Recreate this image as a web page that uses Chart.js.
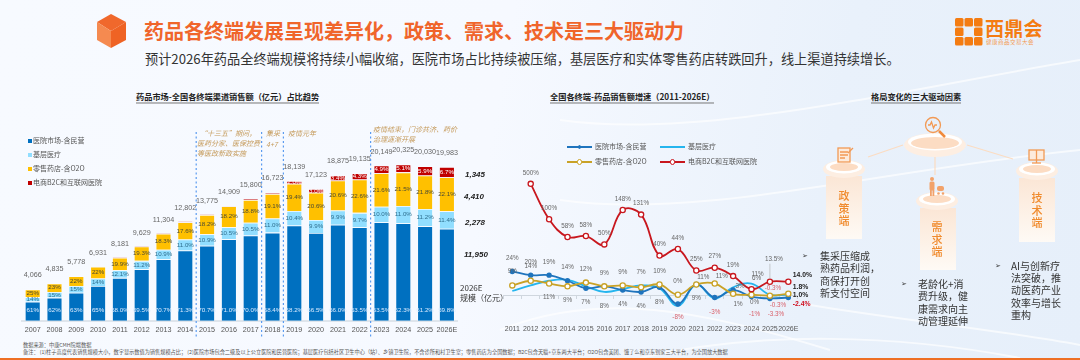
<!DOCTYPE html>
<html lang="zh">
<head>
<meta charset="utf-8">
<title>药品各终端发展呈现差异化</title>
<script src="https://cdn.jsdelivr.net/npm/chart.js@4/dist/chart.umd.min.js"></script>
<style>
    html, body { margin: 0; padding: 0; }
    body { width: 1080px; height: 360px; overflow: hidden; position: relative;
        font-family: "Noto Sans CJK SC", "Noto Sans", sans-serif;
        background: linear-gradient(100deg, #f7faff 0%, #f6f9ff 45%, #e9f1fb 75%, #e6effa 100%); }
    svg.deco { position: absolute; left: 0; top: 0; }
    canvas { position: absolute; }
    .t { position: absolute; white-space: nowrap; transform: translateY(-50%); line-height: 1.1; }
    .title { left: 144px; top: 31px; font-size: 20px; font-weight: 700; color: #f0652b; }
    .sub { left: 145px; top: 59px; font-size: 13.2px; color: #333; }
    .head { top: 98px; font-size: 8.2px; font-weight: 700; color: #222; border-bottom: 1.5px solid #777; padding-bottom: 1px; }
    .era { font-size: 7px; font-style: italic; color: #c59a5a; }
    .leg { font-size: 7px; color: #555; }
    .size { font-size: 8px; font-weight: 700; font-style: italic; color: #222; font-family: "Liberation Sans", sans-serif; }
    .foot { left: 23px; font-size: 5.2px; color: #555; }
    .col { font-size: 11px; color: #f08a2c; font-weight: 500; width: 36px; text-align: center; }
    .say { font-size: 10px; color: #333; }
    .arrow { font-size: 7px; color: #333; font-family: "DejaVu Sans", sans-serif; }
    .bar { position: absolute; left: 0; top: 358px; width: 1080px; height: 2px; background: #ee6f24; }
</style>
</head>
<body>
<svg class="deco" width="1080" height="360" viewBox="0 0 1080 360">
    <defs>
        <linearGradient id="colFill" x1="0" y1="0" x2="0" y2="1">
            <stop offset="0" stop-color="#fbe6d5"/>
            <stop offset="1" stop-color="#fefaf5"/>
        </linearGradient>
    </defs>
    <!-- background streaks -->
    <g fill="none" stroke="#ffffff" stroke-opacity="0.65">
        <path d="M560 120 C700 140 900 90 1080 60" stroke-width="2"/>
        <path d="M560 200 C700 220 880 170 1080 150" stroke-width="2"/>
        <path d="M810 305 C900 320 1000 330 1080 345" stroke-width="2"/>
        <path d="M500 330 C600 290 700 310 830 350" stroke-width="2"/>
        <path d="M640 358 C760 330 900 335 1020 358" stroke-width="2"/>
    </g>
    <!-- cube -->
    <polygon points="111,14 126,22 111,31 97,22" fill="#f0682c"/>
    <polygon points="97,22 111,31 111,48 97,40" fill="#f58a50"/>
    <polygon points="126,22 126,40 111,48 111,31" fill="#ef6324"/>
    <!-- logo squares -->
    <g fill="#f47c12">
        <rect x="955" y="18" width="8.5" height="8.5" rx="1.5"/><rect x="964.5" y="18" width="8.5" height="8.5" rx="1.5"/><rect x="974" y="18" width="8.5" height="8.5" rx="1.5"/>
        <rect x="955" y="27.5" width="8.5" height="8.5" rx="1.5"/><rect x="974" y="27.5" width="8.5" height="8.5" rx="1.5"/>
        <rect x="955" y="37" width="8.5" height="8.5" rx="1.5"/><rect x="964.5" y="37" width="8.5" height="8.5" rx="1.5"/><rect x="974" y="37" width="8.5" height="8.5" rx="1.5"/>
    </g>
    <!-- driver diagram -->
    <g stroke="#fbdcc2" stroke-width="1.2">
        <line x1="868" y1="157" x2="903" y2="145"/>
        <line x1="935" y1="157" x2="935" y2="175"/>
        <line x1="967" y1="145" x2="1013" y2="159"/>
    </g>
    <rect x="826" y="176" width="36" height="63" fill="url(#colFill)"/>
    <rect x="920" y="208" width="36" height="62" fill="url(#colFill)"/>
    <rect x="1019" y="178" width="36" height="64" fill="url(#colFill)"/>
    <g>
        <ellipse cx="935" cy="145" rx="31" ry="12" fill="#fdeee2"/>
        <ellipse cx="935" cy="142" rx="27" ry="8.5" fill="#ffffff"/>
        <ellipse cx="935" cy="143" rx="24" ry="6" fill="#fcdcc3"/>
        <ellipse cx="844" cy="169" rx="21" ry="9" fill="#fdeee2"/>
        <ellipse cx="844" cy="167" rx="18" ry="6.5" fill="#ffffff"/>
        <ellipse cx="844" cy="167" rx="14" ry="4" fill="#fcdcc3"/>
        <ellipse cx="937" cy="201" rx="21" ry="9" fill="#fdeee2"/>
        <ellipse cx="937" cy="199" rx="18" ry="6.5" fill="#ffffff"/>
        <ellipse cx="937" cy="199" rx="14" ry="4" fill="#fcdcc3"/>
        <ellipse cx="1037" cy="171" rx="21" ry="9" fill="#fdeee2"/>
        <ellipse cx="1037" cy="169" rx="18" ry="6.5" fill="#ffffff"/>
        <ellipse cx="1037" cy="169" rx="14" ry="4" fill="#fcdcc3"/>
    </g>
    <!-- icons -->
    <g fill="none" stroke="#f29a55" stroke-width="1.3">
        <circle cx="933" cy="125" r="7.5"/>
        <path d="M928 125h2l1.5-3 2 6 1.5-3h2"/>
        <line x1="939" y1="131" x2="945" y2="137" stroke-width="2.5" stroke="#f08a3c"/>
        <rect x="838" y="148" width="12" height="14" fill="#fdebdc"/>
        <path d="M840 152h8M840 155h8M840 158h5"/>
        <path d="M848 153l5-5"/>
        <rect x="1029" y="150" width="15" height="10" fill="#fdebdc"/>
        <line x1="1036.5" y1="160" x2="1036.5" y2="163"/>
        <line x1="1032" y1="163" x2="1041" y2="163"/>
        <path d="M1036.5 150v10"/>
    </g>
    <g fill="#f2a26a">
        <circle cx="932" cy="179" r="2"/>
        <rect x="929.5" y="181.5" width="5" height="9" rx="1.5"/>
        <rect x="930" y="190" width="1.8" height="6"/><rect x="932.5" y="190" width="1.8" height="6"/>
        <rect x="937" y="186" width="7" height="5" rx="2"/>
        <circle cx="938.5" cy="193.5" r="1.3"/><circle cx="943" cy="193.5" r="1.3"/>
    </g>
</svg>

<div class="t title">药品各终端发展呈现差异化&#xFF0C;政策、需求、技术是三大驱动力</div>
<div class="t sub">预计2026年药品全终端规模将持续小幅收缩&#xFF0C;医院市场占比持续被压缩&#xFF0C;基层医疗和实体零售药店转跌回升&#xFF0C;线上渠道持续增长。</div>
<div class="t" style="left:985px;top:28px;font-size:19px;font-weight:700;color:#f47c12;letter-spacing:.3px">西鼎会</div>
<div class="t" style="left:986px;top:42px;font-size:5.6px;color:#f49a50;letter-spacing:.4px">健康商品交易大会</div>

<div class="t head" style="left:136px">药品市场-全国各终端渠道销售额&#xFF08;亿元&#xFF09;占比趋势</div>
<div class="t head" style="left:550px">全国各终端-药品销售额增速&#xFF08;2011-2026E&#xFF09;</div>
<div class="t head" style="left:871px">格局变化的三大驱动因素</div>

<canvas id="shareChart" width="500" height="207" style="left:0;top:132px"></canvas>
<canvas id="growthChart" width="340" height="170" style="left:490px;top:165px"></canvas>
<div id="overlay"></div>

<div class="t era" style="left:200px;top:134px">“十三五”期间&#xFF0C;</div>
<div class="t era" style="left:197px;top:144px">医药分家、医保控费</div>
<div class="t era" style="left:197px;top:154px">等医改新政实施</div>
<div class="t era" style="left:266px;top:134px">集采</div>
<div class="t era" style="left:266px;top:145px">4+7</div>
<div class="t era" style="left:288px;top:134px">疫情元年</div>
<div class="t era" style="left:373px;top:130px">疫情结束&#xFF0C;门诊共济、药价</div>
<div class="t era" style="left:373px;top:139.5px">治理逐渐开展</div>

<div class="t" style="left:460px;top:288px;font-size:8px;color:#333">2026E</div>
<div class="t" style="left:460px;top:298px;font-size:8px;color:#333">规模&#xFF08;亿元&#xFF09;</div>

<div class="t col" style="left:826px;top:208px;white-space:normal;line-height:12.5px">政<br>策<br>端</div>
<div class="t col" style="left:919px;top:239px;white-space:normal;line-height:12.5px">需<br>求<br>端</div>
<div class="t col" style="left:1019px;top:210px;white-space:normal;line-height:12.5px">技<br>术<br>端</div>

<div class="t arrow" style="left:802px;top:257px">➢</div>
<div class="t say" style="left:820px;top:275px;line-height:12.3px">集采压缩成<br>熟药品利润&#xFF0C;<br>商保打开创<br>新支付空间</div>
<div class="t arrow" style="left:901px;top:285px">➢</div>
<div class="t say" style="left:918px;top:303px;line-height:12.3px">老龄化+消<br>费升级&#xFF0C;健<br>康需求向主<br>动管理延伸</div>
<div class="t arrow" style="left:995px;top:267px">➢</div>
<div class="t say" style="left:1011px;top:291px;line-height:12.2px">AI与创新疗<br>法突破&#xFF0C;推<br>动医药产业<br>效率与增长<br>重构</div>

<div class="t foot" style="top:345px">数据来源&#xFF1A;中康CMH院端数据</div>
<div class="t foot" style="top:352.3px">备注&#xFF1A; (1)柱子高度代表销售规模大小&#xFF0C;数字显示数值为销售规模占比&#xFF1B; (2)医院市场包含二级及以上公立医院和民营医院&#xFF1B;基层医疗包括社区卫生中心&#xFF08;站&#xFF09;、乡镇卫生院&#xFF0C;不含诊所和村卫生室&#xFF1B;零售药店为全国数据&#xFF1B;B2C包含天猫+京东两大平台&#xFF1B;O2O包含美团、饿了么和京东到家三大平台&#xFF0C;为全国放大数据</div>
<div class="bar"></div>

<script>
const seriesNames = ['医院市场-含民营', '基层医疗', '零售药店-含O2O', '电商B2C和互联网医院'];

// left chart: market size and share per channel, as printed on the bars
const shareYears = ['2007', '2008', '2009', '2010', '2011', '2012', '2013', '2014', '2015', '2016', '2017', '2018', '2019', '2020', '2021', '2022', '2023', '2024', '2025', '2026E'];
const marketTotals = [4066, 4835, 5778, 6931, 8181, 9629, 11304, 12802, 13775, 14909, 15800, 16723, 18139, 17123, 18875, 19135, 20149, 20325, 20030, 19983];
const hospitalShare = [61, 62, 63, 65, 68.0, 69.5, 70.7, 71.3, 70.7, 71.0, 70.0, 68.4, 68.2, 66.5, 66.0, 63.5, 63.5, 62.3, 61.2, 59.8];
const grassrootsShare = [14, 15, 15, 14, 12.1, 11.2, 10.9, 11.0, 10.9, 10.5, 10.5, 11.0, 10.4, 9.9, 9.9, 9.7, 10.0, 11.0, 11.2, 11.4];
const retailShare = [25, 23, 22, 22, 19.9, 19.3, 18.3, 17.6, 18.2, 18.2, 18.8, 19.1, 19.4, 20.6, 20.6, 22.6, 21.6, 21.5, 21.8, 22.1];
const onlineShare = [0, 0, 0, 0, 0.7, 0.8, 0.7, 0.7, 0.6, 0.6, 0.7, 1.0, 2.0, 3.0, 3.4, 4.3, 4.9, 5.1, 5.9, 6.7];
const size2026 = ['1,345', '4,410', '2,278', '11,950'];
const eraBreaks = ['2014', '2017', '2018', '2022'];  // a dashed line follows these years

// right chart: the source axis is not proportional to the printed percentages,
// so these are the heights, the printed text is kept apart below
const growthYears = ['2011', '2012', '2013', '2014', '2015', '2016', '2017', '2018', '2019', '2020', '2021', '2022', '2023', '2024', '2025', '2026E'];
const hospitalLine = [26, 22, 22, 16, 8, 10, 6, 4, 9, -9, 12, -2, 6, -1, -3, -2];
const grassrootsLine = [5, 11, 16, 17, 10, 4, 7, 11, 8, -11, 12, -3, 9, 13, 1, 1];
const retailLine = [11, 16, 13, 10, 14, 10, 11, 9, 12, 1, 12, 13, 2, 1, 0, 2];
const onlineLine = [null, 120, 82, 63, 64, 55, 92, 87, 43, 50, 27, 30, 21, 7, 15, 15];

const onlineLabels = ['', '500%', '100%', '58%', '58%', '50%', '148%', '131%', '40%', '44%', '25%', '27%', '19%', '6%', '13.5%', ''];
const upperLabels = ['24%', '20%', '19%', '14%', '12%', '9%', '9%', '7%', '10%', '0%', '11%', '11%', '3%', '11%', '', ''];
const lowerLabels = ['', '', '11%', '9%', '7%', '8%', '4%', '4%', '8%', '-8%', '9%', '-3%', '1%', '-1%', '-3.3%', ''];
const retailLabels = ['9%', '14%', '', '', '', '', '', '', '', '', '', '', '', '0%', '-0.3%', ''];
const hospitalLabels = ['', '', '', '', '', '', '', '', '', '', '', '', '', '', '-0.3%', ''];
const endLabels = ['14.0%', '1.8%', '1.0%', '-2.4%'];

const colors = { hospital: '#0070c0', grassroots: '#91deff', retail: '#ffc000', online: '#c00000' };

// small per-label corrections where the picture moved a text off its rule, [dx, dy]
const upperNudge = { 10: [7, 6], 11: [7, 6], 12: [7, 12], 13: [6, 4] };
const lowerNudge = { 9: [0, -3], 12: [5, -4], 13: [3, 4], 14: [6, 2] };
const onlineNudge = { 13: [5, 0], 14: [4, -11] };
const retailNudge = { 13: [3, 22], 14: [3, 7] };
const endOffsets = [-7, -7, -2, 9];

function stackValues(shares) {
    return shares.map((share, i) => marketTotals[i] * share / 100);
}

function fmtShare(value, i) {
    return i < 4 ? value + '%' : value.toFixed(1) + '%';
}

// the axis sits on the zero line, so it should not take room from the plot
function noAxisRoom(scale) {
    scale.height = 0;
    scale.paddingLeft = 0;
    scale.paddingRight = 0;
}

const shareLabelsPlugin = {
    id: 'shareLabels',
    afterDatasetsDraw(chart) {
        const ctx = chart.ctx;
        const shares = [hospitalShare, grassrootsShare, retailShare, onlineShare];
        const inkColors = ['#dcecff', '#2f6f8f', '#4a4a33', '#ffffff'];
        ctx.save();
        ctx.textAlign = 'center';
        ctx.textBaseline = 'middle';
        ctx.font = '6.2px "Liberation Sans", sans-serif';
        shares.forEach((list, d) => {
            chart.getDatasetMeta(d).data.forEach((bar, i) => {
                if (d === 3 && list[i] < 2) return;
                ctx.fillStyle = inkColors[d];
                const y = d === 0 ? chart.scales.y.getPixelForValue(0) - 10 : (bar.y + bar.base) / 2;
                ctx.fillText(fmtShare(list[i], i), bar.x, y);
            });
        });
        // totals over the bars
        ctx.font = '7.2px "Liberation Sans", sans-serif';
        ctx.fillStyle = '#666';
        marketTotals.forEach((total, i) => {
            const x = chart.scales.x.getPixelForValue(i);
            ctx.fillText(total.toLocaleString('en-US'), x, chart.scales.y.getPixelForValue(total) - 14);
        });
        // era separators
        const step = chart.scales.x.getPixelForValue(1) - chart.scales.x.getPixelForValue(0);
        ctx.strokeStyle = '#5b9bf0';
        ctx.lineWidth = 1.2;
        ctx.setLineDash([2, 2.5]);
        eraBreaks.forEach(year => {
            const x = chart.scales.x.getPixelForValue(shareYears.indexOf(year)) + step / 2;
            ctx.beginPath();
            ctx.moveTo(x, chart.chartArea.top);
            ctx.lineTo(x, chart.chartArea.bottom);
            ctx.stroke();
        });
        ctx.restore();
    }
};

const growthLabelsPlugin = {
    id: 'growthLabels',
    afterDatasetsDraw(chart) {
        const ctx = chart.ctx;
        const xs = chart.scales.x;
        const ys = chart.scales.y;
        const lowLines = [hospitalLine, grassrootsLine, retailLine];

        function put(text, i, y, nudge) {
            if (!text) return;
            const n = nudge || [0, 0];
            ctx.fillStyle = text.startsWith('-') ? '#d9606a' : '#666';
            ctx.fillText(text, xs.getPixelForValue(i) + n[0], y + n[1]);
        }

        ctx.save();
        ctx.textAlign = 'center';
        ctx.textBaseline = 'middle';
        ctx.font = '6.3px "Liberation Sans", sans-serif';
        growthYears.forEach((year, i) => {
            const heights = lowLines.map(line => ys.getPixelForValue(line[i]));
            const top = Math.min(...heights);
            const low = Math.max(...heights);
            put(upperLabels[i], i, top - 13, upperNudge[i]);
            put(lowerLabels[i], i, low + 14, lowerNudge[i]);
            put(retailLabels[i], i, ys.getPixelForValue(retailLine[i]) - 14, retailNudge[i]);
            put(hospitalLabels[i], i, ys.getPixelForValue(hospitalLine[i]) + 7, [8, 0]);
            if (onlineLine[i] !== null) put(onlineLabels[i], i, ys.getPixelForValue(onlineLine[i]) - 11, onlineNudge[i]);
        });
        // leader from the 2025 online point up to its text
        const leadX = xs.getPixelForValue(14);
        ctx.strokeStyle = '#aaa';
        ctx.lineWidth = 0.6;
        ctx.beginPath();
        ctx.moveTo(leadX, ys.getPixelForValue(onlineLine[14]) - 3);
        ctx.lineTo(leadX, ys.getPixelForValue(onlineLine[14]) - 18);
        ctx.stroke();
        // closing values to the right of 2026E
        const lastLines = [onlineLine, retailLine, hospitalLine, grassrootsLine];
        ctx.textAlign = 'left';
        ctx.font = 'bold 6.8px "Liberation Sans", sans-serif';
        endLabels.forEach((text, k) => {
            ctx.fillStyle = text.startsWith('-') ? '#d01020' : '#222';
            ctx.fillText(text, xs.getPixelForValue(15) + 4.5, ys.getPixelForValue(lastLines[k][15]) + endOffsets[k]);
        });
        ctx.restore();
    }
};

function makeShareChart() {
    const barData = [hospitalShare, grassrootsShare, retailShare, onlineShare].map(stackValues);
    const fills = [colors.hospital, colors.grassroots, colors.retail, colors.online];
    new Chart(document.getElementById('shareChart').getContext('2d'), {
        type: 'bar',
        data: {
            labels: shareYears,
            datasets: barData.map((values, d) => ({
                label: seriesNames[d],
                data: values,
                backgroundColor: fills[d],
                borderColor: 'rgba(255,255,255,0.45)',
                borderWidth: 0.8,
                barPercentage: 0.72,
                categoryPercentage: 1
            }))
        },
        options: {
            responsive: false,
            animation: false,
            layout: { padding: { left: 21.8, right: 42.2, top: 0, bottom: 0 } },
            plugins: { legend: { display: false }, tooltip: { enabled: false } },
            scales: {
                x: {
                    stacked: true,
                    position: { y: 0 },
                    afterFit: noAxisRoom,
                    grid: { display: false, drawTicks: false },
                    border: { color: '#dfe5ec', width: 2 },
                    ticks: { color: '#555', font: { size: 7.2, family: '"Liberation Sans", sans-serif' }, padding: 5, autoSkip: false, maxRotation: 0 }
                },
                y: { stacked: true, display: false, min: -2377, max: 24506 }
            }
        },
        plugins: [shareLabelsPlugin]
    });
}

function makeGrowthChart() {
    function lineSet(name, values, color, point) {
        return Object.assign({
            label: name,
            data: values,
            borderColor: color,
            borderWidth: 1.8,
            tension: 0.4,
            pointRadius: 0,
            fill: false
        }, point);
    }
    const ringPoint = color => ({ pointRadius: 2.6, pointBorderWidth: 1.3, pointBorderColor: color, pointBackgroundColor: '#fff' });

    new Chart(document.getElementById('growthChart').getContext('2d'), {
        type: 'line',
        data: {
            labels: growthYears,
            datasets: [
                lineSet(seriesNames[3], onlineLine, '#c8171e', ringPoint('#c8171e')),
                lineSet(seriesNames[2], retailLine, '#c9a227', ringPoint('#c9a227')),
                lineSet(seriesNames[0], hospitalLine, '#1f74bd', { pointRadius: 1.8, pointBackgroundColor: '#1f74bd', pointBorderColor: '#1f74bd' }),
                lineSet(seriesNames[1], grassrootsLine, '#25b5ee')
            ]
        },
        options: {
            responsive: false,
            animation: false,
            layout: { padding: { left: 13.1, right: 32.5, top: 0, bottom: 0 } },
            plugins: { legend: { display: false }, tooltip: { enabled: false } },
            scales: {
                x: {
                    offset: true,
                    position: { y: 0 },
                    afterFit: noAxisRoom,
                    grid: { offset: true, drawOnChartArea: false, drawTicks: true, tickLength: 3, color: '#cfd6de' },
                    border: { color: '#cfd6de', width: 1 },
                    ticks: { color: '#555', font: { size: 7, family: '"Liberation Sans", sans-serif' }, padding: 26, autoSkip: false, maxRotation: 0 }
                },
                y: { display: false, min: -36, max: 134 }
            }
        },
        plugins: [growthLabelsPlugin]
    });
}

// legends and the 2026 sizes are plain page text built from the same arrays
function addPageText() {
    const overlay = document.getElementById('overlay');
    const barColors = [colors.hospital, colors.grassroots, colors.retail, colors.online];
    seriesNames.forEach((name, i) => {
        const y = 141 + i * 14;
        overlay.insertAdjacentHTML('beforeend',
            `<div style="position:absolute;left:28px;top:${y - 2}px;width:4px;height:4px;background:${barColors[i]}"></div>` +
            `<div class="t leg" style="left:33px;top:${y}px">${name}</div>`);
    });
    const spots = [[567, 147, '#1f74bd', 1.8], [660, 147, '#25b5ee', 0], [567, 162, '#c9a227', 2.6], [660, 162, '#c8171e', 2.6]];
    spots.forEach(([x, y, color, r], i) => {
        const mark = r ? `<div style="position:absolute;left:${x + 12.5 - r}px;top:${y - r}px;width:${2 * r}px;height:${2 * r}px;box-sizing:border-box;border-radius:50%;background:${i === 0 ? color : '#fff'};border:1.3px solid ${color}"></div>` : '';
        overlay.insertAdjacentHTML('beforeend',
            `<div style="position:absolute;left:${x}px;top:${y - 1}px;width:25px;height:2px;background:${color}"></div>${mark}` +
            `<div class="t leg" style="left:${x + 28}px;top:${y}px">${seriesNames[i]}</div>`);
    });
    const sizeSpots = [[465, 175], [464, 196.7], [465, 223.3], [464, 254.7]];
    size2026.forEach((text, i) => {
        overlay.insertAdjacentHTML('beforeend',
            `<div class="t size" style="left:${sizeSpots[i][0]}px;top:${sizeSpots[i][1]}px">${text}</div>`);
    });
}

document.addEventListener('DOMContentLoaded', function() {
    makeShareChart();
    makeGrowthChart();
    addPageText();
});
</script>
</body>
</html>
